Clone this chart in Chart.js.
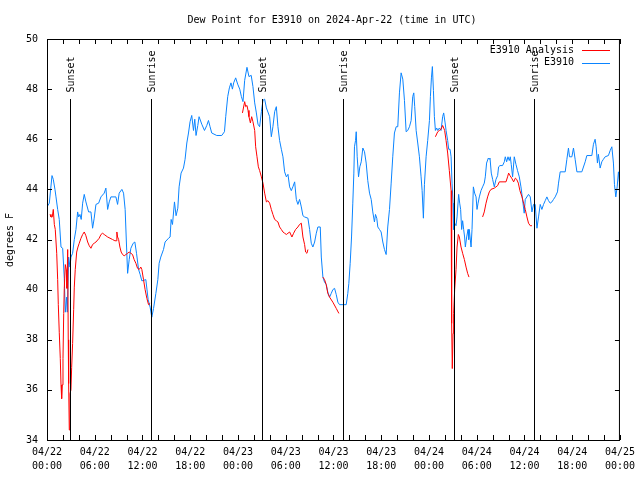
<!DOCTYPE html>
<html>
<head>
<meta charset="utf-8">
<script src="https://cdn.jsdelivr.net/npm/chart.js@4.4.1/dist/chart.umd.min.js"></script>
<style>
  html, body { margin: 0; padding: 0; background: #fff; }
  #chart { display: block; }
</style>
</head>
<body>
<canvas id="chart" width="640" height="480"></canvas>
<script>
// hours since 04/22 00:00 UTC
const blueHours = [
  0.00, 0.29, 0.63, 0.79, 1.00, 1.13, 1.34, 1.54, 1.76, 1.97, 2.17, 2.30, 2.47, 2.55, 2.72, 2.89,
  3.01, 3.22, 3.43, 3.64, 3.85, 3.98, 4.14, 4.30, 4.48, 4.68, 4.89, 5.23, 5.52, 5.73, 5.93, 6.15,
  6.49, 6.78, 7.19, 7.40, 7.62, 7.82, 8.03, 8.66, 8.87, 9.07, 9.41, 9.62, 9.82, 10.00, 10.13, 10.33,
  10.54, 10.83, 11.04, 11.25, 11.51, 11.71, 11.92, 12.42, 12.71, 12.96, 13.17, 13.39, 13.68, 13.93,
  14.09, 14.30, 14.64, 14.84, 15.27, 15.47, 15.60, 15.77, 16.02, 16.22, 16.44, 16.60, 16.85, 17.15,
  17.35, 17.57, 17.78, 17.98, 18.19, 18.41, 18.57, 18.73, 18.95, 19.11, 19.45, 19.79, 20.08, 20.29,
  20.49, 20.70, 21.33, 21.96, 22.30, 22.46, 22.71, 22.92, 23.12, 23.30, 23.46, 23.71, 23.96, 24.22,
  24.43, 24.63, 24.84, 25.13, 25.38, 25.66, 25.88, 26.10, 26.31, 26.51, 26.72, 26.94, 27.14, 27.35,
  27.57, 27.98, 28.19, 28.39, 28.61, 28.82, 29.02, 29.23, 29.45, 29.65, 29.86, 30.08, 30.28, 30.49,
  30.70, 30.90, 31.12, 31.33, 31.53, 31.74, 31.96, 32.16, 32.37, 32.79, 33.00, 33.21, 33.41, 33.63,
  33.84, 34.04, 34.34, 34.47, 34.67, 34.88, 35.09, 35.29, 35.51, 35.72, 35.92, 36.14, 36.35, 36.55,
  36.76, 37.60, 37.80, 37.93, 38.10, 38.27, 38.43, 38.56, 38.64, 38.77, 38.86, 38.98, 39.15, 39.31,
  39.49, 39.69, 39.90, 40.11, 40.31, 40.53, 40.74, 40.94, 41.15, 41.28, 41.44, 41.57, 41.78, 41.99,
  42.20, 42.41, 42.62, 42.82, 43.04, 43.25, 43.45, 43.66, 43.88, 44.08, 44.29, 44.50, 44.71, 44.92,
  45.13, 45.33, 45.55, 45.76, 45.96, 46.09, 46.21, 46.39, 46.59, 46.80, 47.01, 47.14, 47.30, 47.43,
  47.64, 47.84, 48.06, 48.18, 48.31, 48.43, 48.56, 48.68, 48.81, 48.97, 49.10, 49.31, 49.52, 49.72,
  49.85, 50.03, 50.15, 50.35, 50.48, 50.65, 50.78, 50.90, 51.03, 51.10, 51.23, 51.40, 51.53, 51.73,
  51.86, 51.98, 52.11, 52.23, 52.36, 52.48, 52.57, 52.74, 52.91, 52.99, 53.07, 53.29, 53.41, 53.58,
  53.74, 53.92, 54.04, 54.17, 54.33, 54.54, 54.74, 54.95, 55.08, 55.24, 55.46, 55.58, 55.67, 55.83,
  56.00, 56.21, 56.42, 56.63, 56.75, 56.93, 57.25, 57.47, 57.59, 57.76, 57.93, 58.09, 58.22, 58.34,
  58.51, 58.72, 58.93, 59.13, 59.35, 59.56, 59.76, 59.97, 60.10, 60.51, 60.73, 60.94, 61.14, 61.35,
  61.57, 61.77, 61.98, 62.19, 62.40, 62.61, 62.82, 63.02, 63.24, 63.45, 63.65, 63.86, 64.15, 64.28,
  64.49, 65.12, 65.33, 65.53, 65.66, 65.96, 66.16, 66.37, 66.59, 67.21, 67.63, 67.84, 68.47, 68.67,
  68.88, 69.01, 69.17, 69.29, 69.51, 69.72, 69.92, 70.14, 70.55, 70.77, 70.98, 71.18, 71.31, 71.48,
  71.65, 71.81, 72.00
];
const blueDewPoint = [
  43.3, 43.45, 44.55, 44.4, 44.0, 43.7, 43.2, 42.8, 41.7, 41.65, 40.45, 39.1, 39.7, 39.1, 41.3, 40.9,
  41.3, 41.45, 42.0, 42.4, 43.1, 42.9, 43.0, 42.8, 43.45, 43.8, 43.5, 43.1, 43.1, 42.45, 42.85, 43.4,
  43.45, 43.7, 43.85, 44.05, 43.2, 43.5, 43.7, 43.7, 43.4, 43.85, 44.0, 43.85, 43.2, 41.7, 40.65, 41.2,
  41.65, 41.85, 41.9, 41.45, 40.8, 40.6, 40.35, 40.4, 39.6, 39.3, 38.9, 39.25, 39.85, 40.4,
  41.05, 41.3, 41.6, 41.9, 42.05, 42.1, 42.8, 42.6, 43.5, 42.95, 43.25, 44.1, 44.65, 44.85,
  45.2, 45.85, 46.25, 46.7, 46.95, 46.35, 46.8, 46.15, 46.55, 46.9, 46.6, 46.35, 46.55, 46.75,
  46.5, 46.25, 46.15, 46.15, 46.3, 46.9, 47.7, 48.05, 48.25, 48.0, 48.25, 48.45, 48.2, 48.0,
  47.7, 47.5, 48.35, 48.87, 48.5, 48.55, 48.1, 47.45, 47.05, 46.6, 46.5, 47.1, 47.55, 47.6,
  47.25, 46.9, 46.1, 46.5, 47.1, 47.3, 46.5, 45.95, 45.6, 45.3, 44.7, 44.5, 44.6, 44.1,
  43.95, 44.1, 44.3, 43.6, 43.4, 43.6, 43.3, 42.95, 42.9, 42.85, 42.4, 41.85, 41.7, 41.9,
  42.25, 42.5, 42.5, 41.3, 40.5, 40.3, 40.2, 39.9, 39.7, 39.85, 40.0, 40.05, 39.8, 39.5,
  39.4, 39.4, 39.85, 40.25, 41.05, 42.1, 43.45, 44.65, 45.7, 45.95, 46.3, 45.3, 44.5, 44.9,
  45.1, 45.65, 45.5, 45.05, 44.35, 43.85, 43.6, 43.1, 42.7, 43.0, 42.85, 42.5, 42.4, 42.3,
  41.9, 41.6, 41.4, 42.5, 43.2, 44.25, 45.3, 46.25, 46.5, 46.5, 47.85, 48.65, 48.4, 47.55,
  46.3, 46.35, 46.5, 46.75, 47.7, 47.85, 47.3, 46.35, 45.85, 45.3, 44.5, 43.95, 42.85, 44.2,
  45.3, 45.95, 46.75, 47.7, 48.45, 48.9, 47.95, 46.9, 46.35, 46.45, 46.35, 46.45, 46.35, 46.9,
  47.05, 46.65, 46.35, 45.95, 45.6, 45.6, 45.3, 44.25, 43.45, 42.4, 42.65, 42.55, 42.9, 43.8,
  43.45, 43.2, 42.4, 42.75, 42.4, 42.1, 41.7, 42.1, 42.4, 42.0, 42.4, 41.7, 42.4, 44.1,
  43.85, 43.7, 43.2, 43.45, 43.7, 43.95, 44.1, 44.25, 44.5, 45.05, 45.25, 45.2, 45.25, 44.65,
  44.4, 44.1, 44.4, 44.55, 44.9, 44.95, 44.95, 45.1, 45.3, 45.1, 45.3, 45.15, 45.3, 45.0,
  44.5, 45.3, 45.0, 44.75, 44.5, 44.1, 43.6, 43.05, 43.6, 43.8, 43.7, 43.1, 43.4, 43.4,
  42.45, 42.9, 43.4, 43.2, 43.4, 43.55, 43.7, 43.55, 43.45, 43.5, 43.6, 43.7, 43.9, 44.25,
  44.7, 44.7, 45.2, 45.65, 45.3, 45.3, 45.65, 45.2, 44.7, 44.7, 45.1, 45.35, 45.35, 45.8,
  46.0, 45.7, 45.05, 45.4, 44.85, 45.1, 45.2, 45.3, 45.35, 45.55, 45.7, 45.05, 44.2, 43.7,
  44.1, 44.7, 44.1
];

// analysis series, null marks a gap
const redHours = [
  0.38, 0.50, 0.66, 0.79, 0.92, 1.04, 1.22, 1.34, 1.42, 1.54, 1.67, 1.76, 1.84, 1.92, 2.01, 2.10,
  2.17, 2.30, 2.42, 2.51, 2.60, 2.67, 2.72, 2.80, 2.89, 3.01, 3.10, 3.22, 3.35, 3.43, 3.55, 3.73,
  3.89, 4.05, 4.27, 4.48, 4.68, 4.89, 5.11, 5.31, 5.52, 5.73, 5.93, 6.15, 6.56, 6.78, 6.99, 7.19,
  7.62, 8.24, 8.53, 8.70, 8.78, 8.87, 9.00, 9.16, 9.32, 9.50, 9.70, 9.91, 10.13, 10.33, 10.54, 10.75,
  10.95, 11.17, 11.38, 11.58, 11.79, 11.92, 12.13, 12.33, 12.55, 12.76, 12.96, 13.0,
  24.56, 24.84, 24.97, 25.13, 25.26, 25.38, 25.56, 25.72, 25.88, 26.10, 26.22, 26.39, 26.56, 26.72,
  26.94, 27.14, 27.35, 27.57, 27.77, 27.98, 28.19, 28.39, 28.61, 28.82, 29.02, 29.23, 29.45, 29.65,
  29.86, 30.08, 30.28, 30.49, 30.78, 30.99, 31.24, 31.53, 31.74, 31.96, 32.16, 32.37, 32.50, 32.66,
  32.79, 33.0,
  34.67, 34.88, 35.09, 35.29, 35.51, 35.92, 36.35, 36.68, 36.7,
  48.81, 49.10, 49.31, 49.52, 49.72, 49.85, 49.97, 50.15, 50.35, 50.56, 50.78, 50.85, 50.93, 51.03,
  51.10, 51.23, 51.40, 51.53, 51.69, 51.82, 52.03, 52.23, 52.45, 52.66, 52.86, 53.03, 53.1,
  54.74, 54.95, 55.17, 55.37, 55.58, 55.79, 56.21, 56.42, 56.63, 56.84, 57.68, 57.88, 58.01, 58.18,
  58.39, 58.64, 58.86, 59.02, 59.23, 59.43, 59.69, 59.89, 60.10, 60.31, 60.51, 60.73, 60.94
];
const redDewPoint = [
  43.0, 42.9, 42.9, 43.2, 42.6, 42.4, 41.45, 40.4, 39.4, 38.3, 37.25, 36.2, 35.65, 36.2, 37.25, 39.05,
  40.05, 41.0, 40.8, 40.05, 41.6, 38.0, 36.25, 34.4, 35.85, 36.0, 36.9, 37.85, 39.2, 40.1, 40.8, 41.5,
  41.7, 41.85, 42.05, 42.2, 42.3, 42.15, 41.9, 41.75, 41.65, 41.8, 41.85, 41.9, 42.05, 42.2, 42.25, 42.2,
  42.1, 42.0, 41.95, 41.95, 42.3, 42.1, 42.0, 41.7, 41.5, 41.4, 41.35, 41.4, 41.45, 41.5, 41.45, 41.4,
  41.2, 41.05, 40.85, 40.8, 40.9, 40.8, 40.4, 40.0, 39.65, 39.4, 39.45, null,
  47.05, 47.5, 47.3, 47.35, 47.15, 46.9, 46.65, 46.9, 46.7, 46.35, 45.7, 45.3, 44.9, 44.75,
  44.5, 44.25, 43.85, 43.5, 43.55, 43.45, 43.2, 43.0, 42.8, 42.75, 42.7, 42.5, 42.4, 42.3,
  42.25, 42.2, 42.25, 42.3, 42.1, 42.25, 42.4, 42.5, 42.6, 42.65, 42.1, 41.8, 41.5, 41.45,
  41.6, null,
  40.5, 40.4, 40.2, 39.85, 39.7, 39.5, 39.25, 39.05, null,
  46.1, 46.3, 46.35, 46.4, 46.55, 46.45, 46.35, 45.95, 45.45, 44.75, 43.95, 38.65, 36.85, 38.25,
  39.05, 40.0, 40.8, 41.7, 42.2, 42.1, 41.7, 41.45, 41.2, 40.9, 40.65, 40.5, null,
  42.9, 43.1, 43.45, 43.7, 43.9, 44.0, 44.05, 44.1, 44.15, 44.3, 44.3, 44.5, 44.65, 44.55,
  44.45, 44.3, 44.45, 44.4, 44.25, 43.95, 43.7, 43.45, 43.2, 42.9, 42.65, 42.55, 42.55
];

const xTickDates = ["04/22", "04/22", "04/22", "04/22", "04/23", "04/23", "04/23", "04/23", "04/24", "04/24", "04/24", "04/24", "04/25"];
const xTickTimes = ["00:00", "06:00", "12:00", "18:00", "00:00", "06:00", "12:00", "18:00", "00:00", "06:00", "12:00", "18:00", "00:00"];

const sunHours = [2.9, 13.1, 27.0, 37.18, 51.1, 61.14];
const sunNames = ["Sunset", "Sunrise", "Sunset", "Sunrise", "Sunset", "Sunrise"];

const FONT = "DejaVu Sans Mono";
const FSIZE = 10;
const RED = "#ff0000";
const BLUE = "#0a84ff";

const toPoints = (hours, vals) => hours.map((h, i) => ({ x: h, y: vals[i] }));

// frame, inward ticks, sun lines, legend, title
const gnuplotDecor = {
  id: "gnuplotDecor",
  afterDatasetsDraw(chart) {
    const ctx = chart.ctx;
    const a = chart.chartArea;
    const xs = chart.scales.x;
    const ys = chart.scales.y;
    ctx.save();
    ctx.strokeStyle = "#000";
    ctx.lineWidth = 1;

    // sunrise / sunset lines
    ctx.font = FSIZE + "px '" + FONT + "'";
    ctx.fillStyle = "#000";
    sunHours.forEach((h, i) => {
      const px = Math.round(xs.getPixelForValue(h)) + 0.5;
      ctx.beginPath();
      ctx.moveTo(px, 99);
      ctx.lineTo(px, a.bottom);
      ctx.stroke();
      ctx.save();
      ctx.translate(px + 1, 92.5);
      ctx.rotate(-Math.PI / 2);
      ctx.textAlign = "left";
      ctx.textBaseline = "middle";
      ctx.fillText(sunNames[i], 0, 0);
      ctx.restore();
    });

    // frame
    ctx.strokeRect(a.left + 0.5, a.top + 0.5, a.right - a.left - 1, a.bottom - a.top);

    // inward ticks, every 2 hours and every 2 degrees
    ctx.beginPath();
    for (let h = 0; h <= 72; h += 2) {
      const px = Math.round(xs.getPixelForValue(h)) + 0.5;
      ctx.moveTo(px, a.bottom);
      ctx.lineTo(px, a.bottom - 5);
      ctx.moveTo(px, a.top);
      ctx.lineTo(px, a.top + 5);
    }
    for (let v = 34; v <= 50; v += 2) {
      const py = Math.round(ys.getPixelForValue(v)) + 0.5;
      ctx.moveTo(a.left, py);
      ctx.lineTo(a.left + 5, py);
      ctx.moveTo(a.right, py);
      ctx.lineTo(a.right - 5, py);
    }
    ctx.stroke();

    // legend
    ctx.textAlign = "right";
    ctx.textBaseline = "middle";
    chart.data.datasets.forEach((ds, i) => {
      const ly = 50 + i * 12.5;
      ctx.fillStyle = "#000";
      ctx.fillText(ds.label, 574, ly);
      ctx.strokeStyle = ds.borderColor;
      ctx.beginPath();
      ctx.moveTo(582, Math.round(ly) + 0.5);
      ctx.lineTo(610, Math.round(ly) + 0.5);
      ctx.stroke();
    });

    // title and y label
    ctx.fillStyle = "#000";
    ctx.textAlign = "center";
    ctx.fillText("Dew Point for E3910 on 2024-Apr-22 (time in UTC)", 332, 20);
    ctx.save();
    ctx.translate(10, 240);
    ctx.rotate(-Math.PI / 2);
    ctx.fillText("degrees F", 0, 0);
    ctx.restore();
    ctx.restore();
  },
};

const ctx = document.getElementById("chart").getContext("2d");
const myChart = new Chart(ctx, {
  type: "line",
  data: {
    datasets: [
      {
        label: "E3910 Analysis",
        data: toPoints(redHours, redDewPoint),
        borderColor: RED,
        borderWidth: 1,
        pointRadius: 0,
        spanGaps: false,
        tension: 0,
      },
      {
        label: "E3910",
        data: toPoints(blueHours, blueDewPoint),
        borderColor: BLUE,
        borderWidth: 1,
        pointRadius: 0,
        tension: 0,
      },
    ],
  },
  options: {
    responsive: false,
    animation: false,
    devicePixelRatio: 1,
    layout: { padding: { left: 0, right: 19, top: 39, bottom: 0 } },
    plugins: {
      legend: { display: false },
      title: { display: false },
      tooltip: { enabled: false },
    },
    scales: {
      x: {
        type: "linear",
        min: 0,
        max: 72,
        grid: { display: false, drawTicks: false },
        border: { display: false },
        ticks: {
          stepSize: 6,
          autoSkip: false,
          maxRotation: 0,
          padding: 5,
          color: "#000",
          font: { family: FONT, size: FSIZE, lineHeight: 1.4 },
          callback: (value) => {
            const i = Math.round(value / 6);
            return [xTickDates[i], xTickTimes[i]];
          },
        },
        afterFit: (s) => { s.height = 40; },
      },
      y: {
        min: 34,
        max: 50,
        grid: { display: false, drawTicks: false },
        border: { display: false },
        ticks: {
          stepSize: 2,
          padding: 9,
          color: "#000",
          font: { family: FONT, size: FSIZE },
        },
        afterFit: (s) => { s.width = 47; },
      },
    },
  },
  plugins: [gnuplotDecor],
});
</script>
</body>
</html>
